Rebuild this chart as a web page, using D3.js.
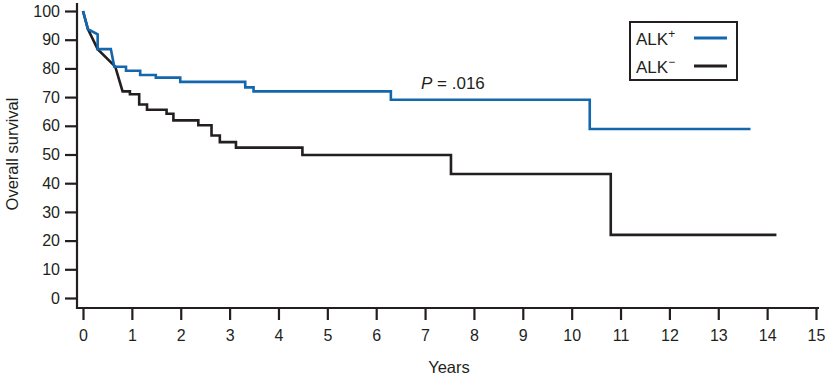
<!DOCTYPE html>
<html>
<head>
<meta charset="utf-8">
<script src="https://cdn.jsdelivr.net/npm/d3@7"></script>
<style>
  body { margin: 0; background: #fff; }
  text { font-family: "Liberation Sans", Arial, sans-serif; fill: #231f20; }
</style>
</head>
<body>
<div id="chart"></div>
<script>
// vertices of the Kaplan-Meier curves (years, % surviving)
let alkPosYears    = [0, 0.1, 0.3, 0.3, 0.57, 0.64, 0.88, 0.88, 1.17, 1.17, 1.49, 1.49, 1.99, 1.99, 3.32, 3.32, 3.49, 3.49, 6.3, 6.3, 10.37, 10.37, 13.66];
let alkPosSurvival = [100, 93.7, 91.9, 86.7, 86.7, 80.6, 80.6, 79.2, 79.2, 77.7, 77.7, 76.8, 76.8, 75.3, 75.3, 73.4, 73.4, 72.0, 72.0, 69.1, 69.1, 58.9, 58.9];

let alkNegYears    = [0, 0.1, 0.3, 0.66, 0.81, 0.96, 0.96, 1.15, 1.15, 1.31, 1.31, 1.71, 1.71, 1.85, 1.85, 2.36, 2.36, 2.63, 2.63, 2.8, 2.8, 3.13, 3.13, 4.49, 4.49, 7.53, 7.53, 10.8, 10.8, 14.19];
let alkNegSurvival = [100, 93.7, 86.7, 80.6, 72.0, 72.0, 71.0, 71.0, 67.4, 67.4, 65.6, 65.6, 64.2, 64.2, 61.9, 61.9, 60.2, 60.2, 56.6, 56.6, 54.3, 54.3, 52.4, 52.4, 49.8, 49.8, 43.2, 43.2, 22.0, 22.0];

let xTicks = d3.range(0, 16, 1);
let yTicks = d3.range(0, 101, 10);
let legendLabels = ["ALK", "ALK"];
let legendSigns = ["+", "\u2212"];
let pLabel = ".016";

let blue = "#1466ad";
let ink = "#231f20";

let svg = d3.select("#chart")
    .append("svg")
    .attr("width", 827)
    .attr("height", 375);

let xScale = d3.scaleLinear().domain([0, 15]).range([83, 816]);
let yScale = d3.scaleLinear().domain([0, 100]).range([298, 11]);

// axes
let yAxis = svg.append("g")
    .attr("transform", "translate(77,0)")
    .call(d3.axisLeft(yScale).tickValues(yTicks).tickSize(12).tickSizeOuter(0).tickPadding(5));
yAxis.select(".domain").remove();
yAxis.selectAll(".tick line").attr("stroke", ink).attr("stroke-width", 2.2);
yAxis.selectAll(".tick text").style("font-size", "16px").attr("fill", ink);

let xAxis = svg.append("g")
    .attr("transform", "translate(0,308)")
    .call(d3.axisBottom(xScale).tickValues(xTicks).tickSize(12).tickSizeOuter(0).tickPadding(10));
xAxis.select(".domain").remove();
xAxis.selectAll(".tick line").attr("stroke", ink).attr("stroke-width", 2.2);
xAxis.selectAll(".tick text").style("font-size", "16px").attr("fill", ink);

svg.append("line")
    .attr("x1", 77).attr("x2", 77).attr("y1", 3).attr("y2", 309)
    .attr("stroke", ink).attr("stroke-width", 2.2);
svg.append("line")
    .attr("x1", 76).attr("x2", 819).attr("y1", 308).attr("y2", 308)
    .attr("stroke", ink).attr("stroke-width", 2.2);

svg.append("text")
    .attr("x", 449).attr("y", 373)
    .attr("text-anchor", "middle")
    .style("font-size", "16.5px")
    .text("Years");
svg.append("text")
    .attr("transform", "translate(18,154) rotate(-90)")
    .attr("text-anchor", "middle")
    .style("font-size", "16.5px")
    .text("Overall survival");

// curves
let line = d3.line()
    .x(d => xScale(d[0]))
    .y(d => yScale(d[1]));

let negPts = alkNegYears.map((t, i) => [t, alkNegSurvival[i]]);
let posPts = alkPosYears.map((t, i) => [t, alkPosSurvival[i]]);

svg.append("path")
    .datum(negPts)
    .attr("fill", "none")
    .attr("stroke", ink)
    .attr("stroke-width", 2.6)
    .attr("d", line);
svg.append("path")
    .datum(posPts)
    .attr("fill", "none")
    .attr("stroke", blue)
    .attr("stroke-width", 2.6)
    .attr("d", line);

// p value
let pText = svg.append("text")
    .attr("x", 421).attr("y", 89)
    .style("font-size", "17px");
pText.append("tspan").style("font-style", "italic").text("P");
pText.append("tspan").text(" = " + pLabel);

// legend
svg.append("rect")
    .attr("x", 630).attr("y", 22)
    .attr("width", 107).attr("height", 58)
    .attr("fill", "none")
    .attr("stroke", ink)
    .attr("stroke-width", 2);

let legendColors = [blue, ink];
legendLabels.forEach(function(lab, i) {
    let y0 = 38 + i * 28;
    let t = svg.append("text")
        .attr("x", 636).attr("y", y0 + 7)
        .style("font-size", "17px");
    t.append("tspan").text(lab);
    t.append("tspan")
        .attr("dy", -7)
        .style("font-size", "12px")
        .text(legendSigns[i]);
    svg.append("line")
        .attr("x1", 694).attr("x2", 727)
        .attr("y1", y0).attr("y2", y0)
        .attr("stroke", legendColors[i])
        .attr("stroke-width", 3);
});
</script>
</body>
</html>
